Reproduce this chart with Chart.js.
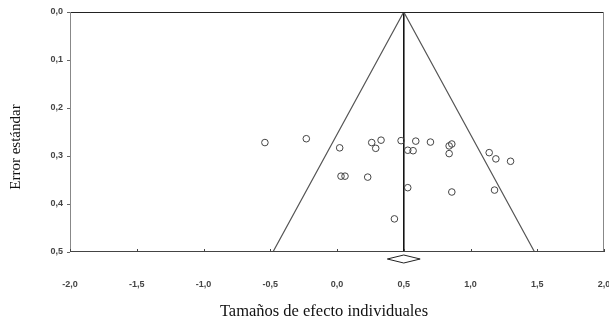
<!DOCTYPE html>
<html>
<head>
<meta charset="utf-8">
<script src="https://cdn.jsdelivr.net/npm/chart.js@4"></script>
<style>
  html, body { margin: 0; padding: 0; background: #fff; }
  #wrap { width: 609px; height: 320px; }
</style>
</head>
<body>
<div id="wrap"><canvas id="myChart" width="609" height="320"></canvas></div>
<script>
// efectos individuales y su error estandar
const effectSizes = [-0.54, -0.23, 0.02, 0.26, 0.29, 0.33, 0.48, 0.53, 0.57, 0.59, 0.70,
                     0.84, 0.86, 0.84, 1.14, 1.19, 1.30, 0.03, 0.06, 0.23, 0.53, 0.86, 1.18, 0.43];
const standardErrors = [0.272, 0.264, 0.283, 0.272, 0.284, 0.267, 0.268, 0.288, 0.289, 0.269, 0.271,
                        0.279, 0.275, 0.295, 0.293, 0.306, 0.311, 0.342, 0.342, 0.344, 0.366, 0.375, 0.371, 0.431];

// efecto combinado, intervalo de confianza y limites del embudo
const pooledEffect = 0.5;
const pooledCI = [0.377, 0.623];
const seRange = [0, 0.5];
const funnelBase = [-0.48, 1.48];

const xTicks = [-2, -1.5, -1, -0.5, 0, 0.5, 1, 1.5, 2];
const yTicks = [0, 0.1, 0.2, 0.3, 0.4, 0.5];
const xTitle = 'Tamaños de efecto individuales';
const yTitle = 'Error estándar';

const fmt = v => v.toFixed(1).replace('.', ',');

const points = effectSizes.map((e, i) => ({ x: e, y: standardErrors[i] }));

// marco, marcas del eje x, rombo y titulos de ejes
const framePlugin = {
    id: 'frame',
    afterDatasetsDraw(chart) {
        const ctx = chart.ctx;
        const a = chart.chartArea;
        const xs = chart.scales.x;
        ctx.save();
        ctx.lineWidth = 1;
        ctx.strokeStyle = '#222';
        ctx.beginPath();
        ctx.moveTo(a.left, a.top + 0.5);
        ctx.lineTo(a.right, a.top + 0.5);
        ctx.stroke();
        ctx.strokeStyle = '#888';
        ctx.beginPath();
        ctx.moveTo(a.right - 0.5, a.top);
        ctx.lineTo(a.right - 0.5, a.bottom);
        ctx.moveTo(a.left + 0.5, a.top);
        ctx.lineTo(a.left + 0.5, a.bottom);
        ctx.stroke();
        ctx.strokeStyle = '#444';
        ctx.beginPath();
        ctx.moveTo(a.left, a.bottom - 0.5);
        ctx.lineTo(a.right, a.bottom - 0.5);
        xTicks.forEach(t => {
            const px = Math.round(xs.getPixelForValue(t)) + 0.5;
            ctx.moveTo(px, a.bottom);
            ctx.lineTo(px, a.bottom - 3);
        });
        ctx.stroke();

        // rombo
        const l = xs.getPixelForValue(pooledCI[0]);
        const r = xs.getPixelForValue(pooledCI[1]);
        const c = xs.getPixelForValue(pooledEffect);
        const cy = a.bottom + 7;
        ctx.strokeStyle = '#222';
        ctx.beginPath();
        ctx.moveTo(l, cy);
        ctx.lineTo(c, cy - 4);
        ctx.lineTo(r, cy);
        ctx.lineTo(c, cy + 4);
        ctx.closePath();
        ctx.stroke();

        // titulos
        ctx.fillStyle = '#111';
        ctx.textAlign = 'center';
        ctx.textBaseline = 'alphabetic';
        ctx.font = '16.5px "Liberation Serif"';
        ctx.fillText(xTitle, a.left + 254, 316);
        ctx.font = '15px "Liberation Serif"';
        ctx.translate(20, a.top + 135);
        ctx.rotate(-Math.PI / 2);
        ctx.fillText(yTitle, 0, 0);
        ctx.restore();
    }
};

const ctx = document.getElementById('myChart').getContext('2d');
const myChart = new Chart(ctx, {
    type: 'scatter',
    data: {
        datasets: [{
            label: 'Estudios',
            data: points,
            pointStyle: 'circle',
            pointRadius: 3.3,
            backgroundColor: 'rgba(255,255,255,0)',
            borderColor: '#444',
            borderWidth: 1
        }, {
            label: 'Embudo',
            data: [
                { x: funnelBase[0], y: seRange[1] },
                { x: pooledEffect, y: seRange[0] },
                { x: funnelBase[1], y: seRange[1] }
            ],
            showLine: true,
            pointRadius: 0,
            borderColor: '#555',
            borderWidth: 1.2
        }, {
            label: 'Efecto combinado',
            data: [
                { x: pooledEffect, y: seRange[0] },
                { x: pooledEffect, y: seRange[1] }
            ],
            showLine: true,
            pointRadius: 0,
            borderColor: '#111',
            borderWidth: 1
        }]
    },
    options: {
        responsive: false,
        animation: false,
        layout: { padding: { top: 12, right: 4, left: 0, bottom: 0 } },
        plugins: {
            legend: { display: false },
            tooltip: { enabled: false }
        },
        scales: {
            x: {
                type: 'linear',
                min: -2,
                max: 2,
                afterBuildTicks: s => { s.ticks = xTicks.map(v => ({ value: v })); },
                afterFit: s => { s.height = 68; s.paddingLeft = 0; s.paddingRight = 0; },
                grid: { display: false, drawTicks: false },
                border: { display: false },
                ticks: {
                    padding: 27,
                    color: '#444',
                    font: { family: 'Liberation Sans', size: 9, weight: 'bold' },
                    callback: v => fmt(v)
                }
            },
            y: {
                type: 'linear',
                min: 0,
                max: 0.5,
                reverse: true,
                afterBuildTicks: s => { s.ticks = yTicks.map(v => ({ value: v })); },
                afterFit: s => { s.width = 70; s.paddingTop = 0; s.paddingBottom = 0; },
                grid: { drawOnChartArea: false, tickLength: 3, color: '#666' },
                border: { display: false },
                ticks: {
                    padding: 4,
                    color: '#444',
                    font: { family: 'Liberation Sans', size: 9, weight: 'bold' },
                    callback: v => fmt(v)
                }
            }
        }
    },
    plugins: [framePlugin]
});
</script>
</body>
</html>
